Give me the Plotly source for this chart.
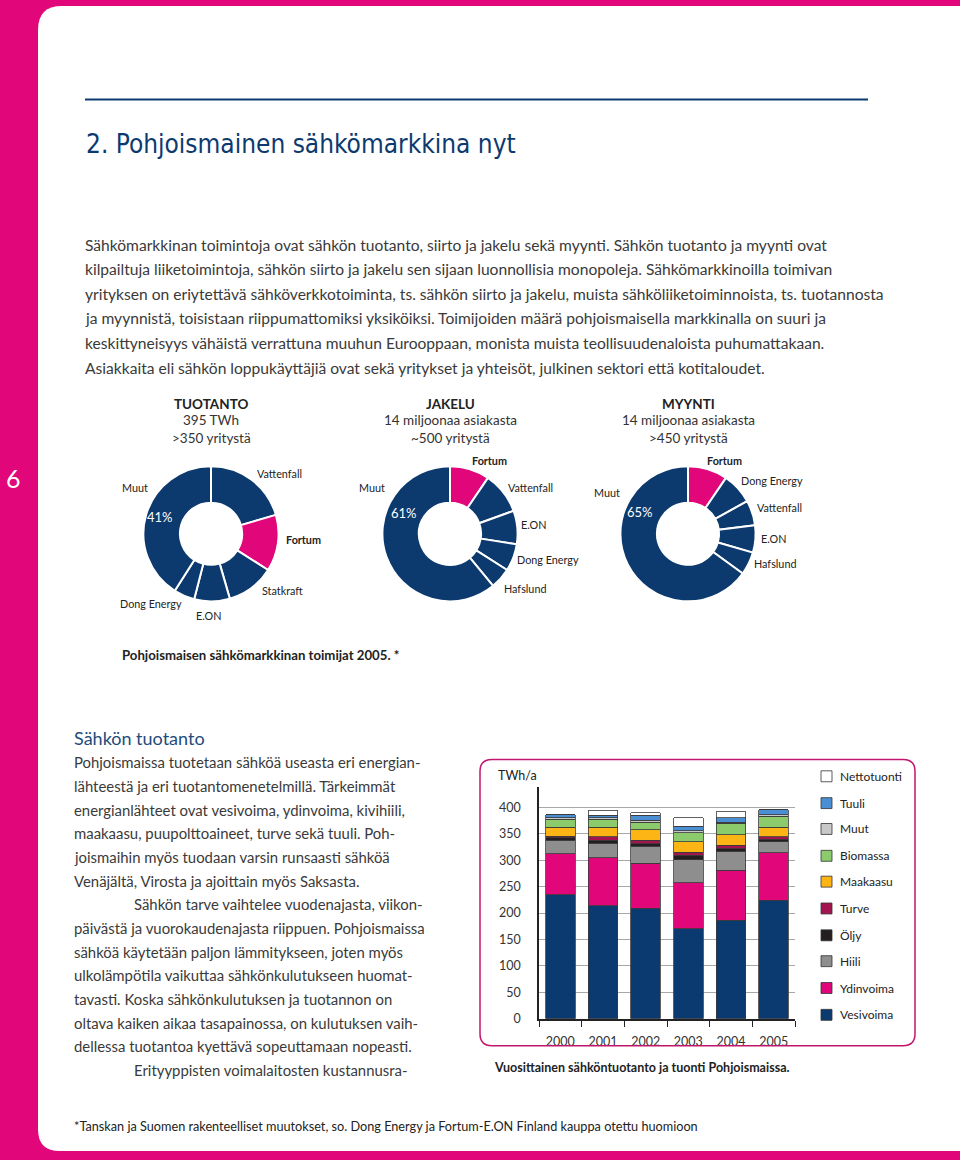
import plotly.graph_objects as go

W, H = 960, 1160

# ---------------- data ----------------
years = ["2000", "2001", "2002", "2003", "2004", "2005"]
source_names = ["Vesivoima", "Ydinvoima", "Hiili", "Öljy", "Turve",
                "Maakaasu", "Biomassa", "Muut", "Tuuli", "Nettotuonti"]
vesivoima = [235, 214, 209, 170, 186, 224]
ydinvoima = [77, 91, 85, 87, 95, 90]
hiili = [26, 27, 32, 44, 36, 21]
oljy = [4, 6, 5, 8, 5, 5]
turve = [3, 6, 7, 6, 6, 4]
maakaasu = [17, 18, 20, 20, 20, 18]
biomassa = [15, 15, 14, 17, 22, 21]
muut = [3, 3, 4, 4, 2, 3]
tuuli = [6, 5, 9, 8, 8, 9]
nettotuonti = [0, 9, 5, 16, 12, 0]
y_ticks = [0, 50, 100, 150, 200, 250, 300, 350, 400]

tuotanto_labels = ["Vattenfall", "Fortum", "Statkraft", "E.ON", "Dong Energy", "Muut"]
tuotanto_values = [20.5, 13.5, 11.5, 8.5, 5, 41]
jakelu_labels = ["Fortum", "Vattenfall", "E.ON", "Dong Energy", "Hafslund", "Muut"]
jakelu_values = [9.5, 10, 8, 6.5, 5, 61]
myynti_labels = ["Fortum", "Dong Energy", "Vattenfall", "E.ON", "Hafslund", "Muut"]
myynti_values = [9.5, 7.5, 6, 6.5, 5.5, 65]

donut_titles = [["TUOTANTO", "395 TWh", ">350 yritystä"],
                ["JAKELU", "14 miljoonaa asiakasta", "~500 yritystä"],
                ["MYYNTI", "14 miljoonaa asiakasta", ">450 yritystä"]]

# ---------------- styles ----------------
PINK = "#E2067B"
NAVY = "#0C3A6F"
TEXT = "#3a3a3a"
FONT = "Lato, 'Open Sans', sans-serif"
COND = "'DejaVu Sans Condensed', 'Liberation Sans Narrow', sans-serif"
source_colors = ["#0B3A70", "#E2067B", "#8E8E8E", "#231F20", "#A3154F",
                 "#FDB515", "#8CCB6B", "#C8C8C8", "#4A8FD4", "#FFFFFF"]


def P(x, y):
    return x / W, 1 - y / H


fig = go.Figure()

# ---------------- stacked bars ----------------
series = [vesivoima, ydinvoima, hiili, oljy, turve, maakaasu, biomassa, muut, tuuli, nettotuonti]
for name, vals, col in zip(source_names, series, source_colors):
    fig.add_trace(go.Bar(
        x=years, y=vals, name=name,
        marker=dict(color=col, line=dict(color="#3a3a3a", width=0.8)),
        showlegend=False, xaxis="x", yaxis="y"))

# ---------------- donuts ----------------
donuts = [(tuotanto_labels, tuotanto_values, 211),
          (jakelu_labels, jakelu_values, 450),
          (myynti_labels, myynti_values, 688)]
cy, r = 537, 68
for labels, vals, cx in donuts:
    cols = [PINK if l == "Fortum" else NAVY for l in labels]
    fig.add_trace(go.Pie(
        labels=labels, values=vals, hole=0.46, sort=False, direction="clockwise",
        rotation=0, textinfo="none", hoverinfo="label+value",
        marker=dict(colors=cols, line=dict(color="white", width=2)),
        domain=dict(x=[(cx - r) / W, (cx + r) / W], y=[1 - (cy + r) / H, 1 - (cy - r) / H]),
        showlegend=False))

ann = []


def text(x, y, s, size=14.5, color=TEXT, anchor="left", family=FONT, valign="middle"):
    px, py = P(x, y)
    ann.append(dict(x=px, y=py, xref="paper", yref="paper", text=s, showarrow=False,
                    xanchor=anchor, yanchor=valign, font=dict(size=size, color=color, family=family)))


# page title & intro
text(84, 145, "2. Pohjoismainen sähkömarkkina nyt", size=26, color=NAVY, family=COND)
intro = [
    "Sähkömarkkinan toimintoja ovat sähkön tuotanto, siirto ja jakelu sekä myynti. Sähkön tuotanto ja myynti ovat",
    "kilpailtuja liiketoimintoja, sähkön siirto ja jakelu sen sijaan luonnollisia monopoleja. Sähkömarkkinoilla toimivan",
    "yrityksen on eriytettävä sähköverkkotoiminta, ts. sähkön siirto ja jakelu, muista sähköliiketoiminnoista, ts. tuotannosta",
    "ja myynnistä, toisistaan riippumattomiksi yksiköiksi. Toimijoiden määrä pohjoismaisella markkinalla on suuri ja",
    "keskittyneisyys vähäistä verrattuna muuhun Eurooppaan, monista muista teollisuudenaloista puhumattakaan.",
    "Asiakkaita eli sähkön loppukäyttäjiä ovat sekä yritykset ja yhteisöt, julkinen sektori että kotitaloudet.",
]
for i, line in enumerate(intro):
    text(83, 246 + i * 24.8, line, size=15.6)

# page number
text(13, 481, "6", size=25, color="white", anchor="center")

# donut titles
for (lab, vals, cx), t in zip(donuts, donut_titles):
    text(cx, 406, "<b>" + t[0] + "</b>", size=13.5, color="#222", anchor="center")
    text(cx, 423, t[1], size=13.5, color="#333", anchor="center")
    text(cx, 441, t[2], size=13.5, color="#333", anchor="center")

# donut labels
lbl = 10.8
text(135, 490, "Muut", lbl, "#222", "center")
text(160, 520, "41%", 13, "white", "center")
text(279, 476, "Vattenfall", lbl, "#222", "center")
text(303, 543, "<b>Fortum</b>", lbl, "#222", "center")
text(282, 594, "Statkraft", lbl, "#222", "center")
text(151, 607, "Dong Energy", lbl, "#222", "center")
text(208, 619, "E.ON", lbl, "#222", "center")

text(372, 490, "Muut", lbl, "#222", "center")
text(404, 516, "61%", 13, "white", "center")
text(490, 463, "<b>Fortum</b>", lbl, "#222", "center")
text(530, 490, "Vattenfall", lbl, "#222", "center")
text(533, 528, "E.ON", lbl, "#222", "center")
text(548, 563, "Dong Energy", lbl, "#222", "center")
text(525, 592, "Hafslund", lbl, "#222", "center")

text(607, 495, "Muut", lbl, "#222", "center")
text(640, 515, "65%", 13, "white", "center")
text(724, 463, "<b>Fortum</b>", lbl, "#222", "center")
text(772, 483, "Dong Energy", lbl, "#222", "center")
text(779, 511, "Vattenfall", lbl, "#222", "center")
text(773, 542, "E.ON", lbl, "#222", "center")
text(775, 567, "Hafslund", lbl, "#222", "center")

text(120, 659, "<b>Pohjoismaisen sähkömarkkinan toimijat 2005. *</b>", 13.2, "#222")

# lower left body text
text(72, 742, "Sähkön tuotanto", 18, "#1E4C7C")
body = [
    (72, "Pohjoismaissa tuotetaan sähköä useasta eri energian-"),
    (72, "lähteestä ja eri tuotantomenetelmillä. Tärkeimmät"),
    (72, "energianlähteet ovat vesivoima, ydinvoima, kivihiili,"),
    (72, "maakaasu, puupolttoaineet, turve sekä tuuli. Poh-"),
    (72, "joismaihin myös tuodaan varsin runsaasti sähköä"),
    (72, "Venäjältä, Virosta ja ajoittain myös Saksasta."),
    (132, "Sähkön tarve vaihtelee vuodenajasta, viikon-"),
    (72, "päivästä ja vuorokaudenajasta riippuen. Pohjoismaissa"),
    (72, "sähköä käytetään paljon lämmitykseen, joten myös"),
    (72, "ulkolämpötila vaikuttaa sähkönkulutukseen huomat-"),
    (72, "tavasti. Koska sähkönkulutuksen ja tuotannon on"),
    (72, "oltava kaiken aikaa tasapainossa, on kulutuksen vaih-"),
    (72, "dellessa tuotantoa kyettävä sopeuttamaan nopeasti."),
    (132, "Erityyppisten voimalaitosten kustannusra-"),
]
for i, (x0, line) in enumerate(body):
    text(x0, 767 + i * 23.8, line, size=14.9)

# bar chart captions / legend
text(496, 780, "TWh/a", 12.5, "#222")
text(492, 1074, "<b>Vuosittainen sähköntuotanto ja tuonti Pohjoismaissa.</b>", 12.5, "#222")
text(72, 1133, "*Tanskan ja Suomen rakenteelliset muutokset, so. Dong Energy ja Fortum-E.ON Finland kauppa otettu huomioon",
     12.7, "#222")

shapes = []
# white page with rounded left corners
shapes.append(dict(type="path", xref="paper", yref="paper",
                   path="M {a},{b} Q {a},{c} {d},{c} L 1,{c} L 1,{e} L {f},{e} Q {a},{e} {a},{g} Z".format(
                       a=38 / W, b=1 - 30 / H, c=1 - 6 / H, d=62 / W, e=1 - 1158 / H, f=60 / W, g=1 - 1136 / H),
                   fillcolor="white", line=dict(width=0), layer="below"))
# header rule
x0, y0 = P(85, 100)
x1, _ = P(868, 100)
shapes.append(dict(type="line", xref="paper", yref="paper", x0=x0, x1=x1, y0=y0, y1=y0,
                   line=dict(color=NAVY, width=2)))
# rounded chart box
bx0, by0, bx1, by1, rr = 480, 764, 915, 1052, 12
shapes.append(dict(type="path", xref="paper", yref="paper",
                   path="M {} {} L {} {} Q {} {} {} {} L {} {} Q {} {} {} {} L {} {} Q {} {} {} {} L {} {} Q {} {} {} {} Z".format(
                       *P(bx0 + rr, by0), *P(bx1 - rr, by0), *P(bx1, by0), *P(bx1, by0 + rr),
                       *P(bx1, by1 - rr), *P(bx1, by1), *P(bx1 - rr, by1),
                       *P(bx0 + rr, by1), *P(bx0, by1), *P(bx0, by1 - rr),
                       *P(bx0, by0 + rr), *P(bx0, by0), *P(bx0 + rr, by0)),
                   line=dict(color="#C2166E", width=1.5), fillcolor="rgba(0,0,0,0)"))
# legend
leg_y = [1021, 994, 967, 941, 914, 887, 861, 834, 808, 781]
for name, col, ly in zip(source_names, source_colors, leg_y):
    sx0, sy0 = P(821, ly - 5.5)
    sx1, sy1 = P(832, ly + 5.5)
    shapes.append(dict(type="rect", xref="paper", yref="paper", x0=sx0, x1=sx1, y0=sy1, y1=sy0,
                       fillcolor=col, line=dict(color="#333", width=0.8)))
    text(838, ly, name, 12, "#222")

fig.update_layout(
    width=W, height=H, margin=dict(l=0, r=0, t=0, b=0),
    paper_bgcolor=PINK, plot_bgcolor="rgba(0,0,0,0)",
    barmode="stack", bargap=0.31,
    xaxis=dict(domain=[539 / W, 795 / W], anchor="y", type="category",
               showline=True, linecolor="#222", linewidth=1.5,
               ticks="outside", tickson="boundaries", ticklen=6, tickcolor="#222",
               tickfont=dict(size=12.5, color="#333", family=FONT), showgrid=False,
               ticklabelstandoff=10),
    yaxis=dict(domain=[1 - 1025 / H, 1 - 792 / H], anchor="x", range=[0, 438],
               tickvals=y_ticks, showline=True, linecolor="#222", linewidth=1.5,
               gridcolor="#A8A8A8", gridwidth=1, zeroline=False,
               tickfont=dict(size=12.5, color="#333", family=FONT), ticks="", ticklabelstandoff=14),
    annotations=ann, shapes=shapes, font=dict(family=FONT),
)

fig.write_html("out.html", config={"displayModeBar": False},
               post_script="document.body.style.margin='0';")
